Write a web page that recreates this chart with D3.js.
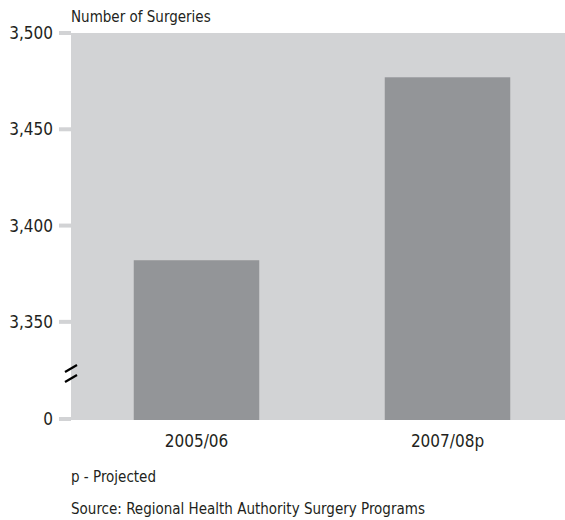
<!DOCTYPE html>
<html>
<head>
<meta charset="utf-8">
<script src="https://cdn.jsdelivr.net/npm/d3@7.9.0/dist/d3.min.js"></script>
<style>
  body { margin: 0; background: #fff; }
  svg text { font-family: "Liberation Sans Narrow", "DejaVu Sans Condensed", "Roboto", sans-serif; fill: #231f20; }
</style>
</head>
<body>
<svg width="565" height="520"></svg>
<script>
const years = ['2005/06', '2007/08p'];
const surgeries = [3382, 3477];
const tickValues = [0, 3350, 3400, 3450, 3500];

const svg = d3.select('svg');
const plotLeft = 71, plotRight = 573, plotTop = 33, plotBottom = 420;

// broken axis: 0 at the bottom, then jump to the 3325+ range
const y = d3.scaleLinear()
  .domain([0, 3325, 3500])
  .range([419, 370, plotTop]);

const x = d3.scaleBand()
  .domain(years)
  .range([plotLeft, plotRight])
  .paddingInner(0.5)
  .paddingOuter(0.25);

// plot background
svg.append('rect')
  .attr('x', plotLeft).attr('y', plotTop)
  .attr('width', plotRight - plotLeft).attr('height', plotBottom - plotTop)
  .attr('fill', '#d2d3d5');

// bars
svg.selectAll('.bar')
  .data(years)
  .join('rect')
  .attr('class', 'bar')
  .attr('x', d => x(d))
  .attr('width', x.bandwidth())
  .attr('y', (d, i) => y(surgeries[i]))
  .attr('height', (d, i) => y(0) - y(surgeries[i]) + 1)
  .attr('fill', '#939598');

// y ticks
const ticks = svg.append('g');
ticks.selectAll('line')
  .data(tickValues)
  .join('line')
  .attr('x1', 59).attr('x2', plotLeft)
  .attr('y1', d => y(d)).attr('y2', d => y(d))
  .attr('stroke', '#d2d3d5')
  .attr('stroke-width', 4);
ticks.selectAll('text')
  .data(tickValues)
  .join('text')
  .attr('x', 53)
  .attr('y', d => y(d))
  .attr('dy', '0.35em')
  .attr('text-anchor', 'end')
  .attr('font-size', 17)
  .text(d => d3.format(',')(d));

// break marks
[0, 10].forEach(off => {
  svg.append('line')
    .attr('x1', 65).attr('y1', 372 + off)
    .attr('x2', 77).attr('y2', 365 + off)
    .attr('stroke', '#000')
    .attr('stroke-width', 2.2);
});

// x labels
svg.selectAll('.xlab')
  .data(years)
  .join('text')
  .attr('class', 'xlab')
  .attr('x', d => x(d) + x.bandwidth() / 2)
  .attr('y', 447)
  .attr('text-anchor', 'middle')
  .attr('font-size', 17)
  .text(d => d);

svg.append('text')
  .attr('x', plotLeft).attr('y', 22)
  .attr('font-size', 15)
  .text('Number of Surgeries');

svg.append('text')
  .attr('x', plotLeft).attr('y', 482)
  .attr('font-size', 15)
  .text('p - Projected');

svg.append('text')
  .attr('x', plotLeft).attr('y', 514)
  .attr('font-size', 15)
  .text('Source: Regional Health Authority Surgery Programs');
</script>
</body>
</html>
